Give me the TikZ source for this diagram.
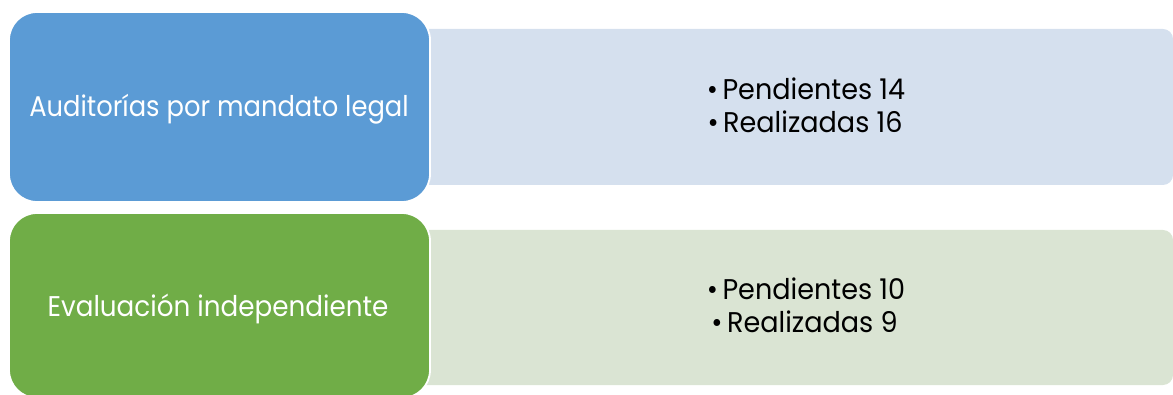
\documentclass[tikz,border=0pt]{standalone}
\usepackage{fontspec}
\setmainfont{Poppins}
\usepackage{graphicx}
\definecolor{darkblue}{HTML}{5B9BD5}
\definecolor{darkgreen}{HTML}{70AD47}
\definecolor{lightblue}{HTML}{D5E0EE}
\definecolor{lightgreen}{HTML}{DAE4D3}
\tikzset{
  lightbox/.style={rounded corners=10pt},
  darkbox/.style={draw=white,line width=1.8pt,rounded corners=28pt},
  headtext/.style={anchor=base,inner sep=0pt,text=white,font=\fontsize{28.5}{30}\selectfont},
  itemtext/.style={anchor=base,inner sep=0pt,text=black,font=\fontsize{28.5}{30}\selectfont},
}
\begin{document}
\begin{tikzpicture}[x=1pt,y=-1pt]
\useasboundingbox (0,0) rectangle (1173,395);
% light boxes
\fill[lightblue,lightbox] (400,29) rectangle (1173,185);
\fill[lightgreen,lightbox] (400,230) rectangle (1173,385);
% dark boxes
\draw[darkbox,fill=darkblue] (9,12) rectangle (430,202);
\draw[darkbox,fill=darkgreen] (9,213) rectangle (430,398);
% texts
\node[headtext] (h1) at (219,117) {\scalebox{0.905}[1]{Auditorías por mandato legal}};
\node[headtext] (h2) at (218,317) {\scalebox{0.92}[1]{Evaluación independiente}};
\node[itemtext] (a1) at (806,100) {\scalebox{0.95}[1]{•\,Pendientes 14}};
\node[itemtext] (a2) at (805,133) {\scalebox{0.95}[1]{•\,Realizadas 16}};
\node[itemtext] (b1) at (806,300) {\scalebox{0.95}[1]{•\,Pendientes 10}};
\node[itemtext] (b2) at (804.5,333) {\scalebox{0.95}[1]{•\,Realizadas 9}};
\end{tikzpicture}
\end{document}
